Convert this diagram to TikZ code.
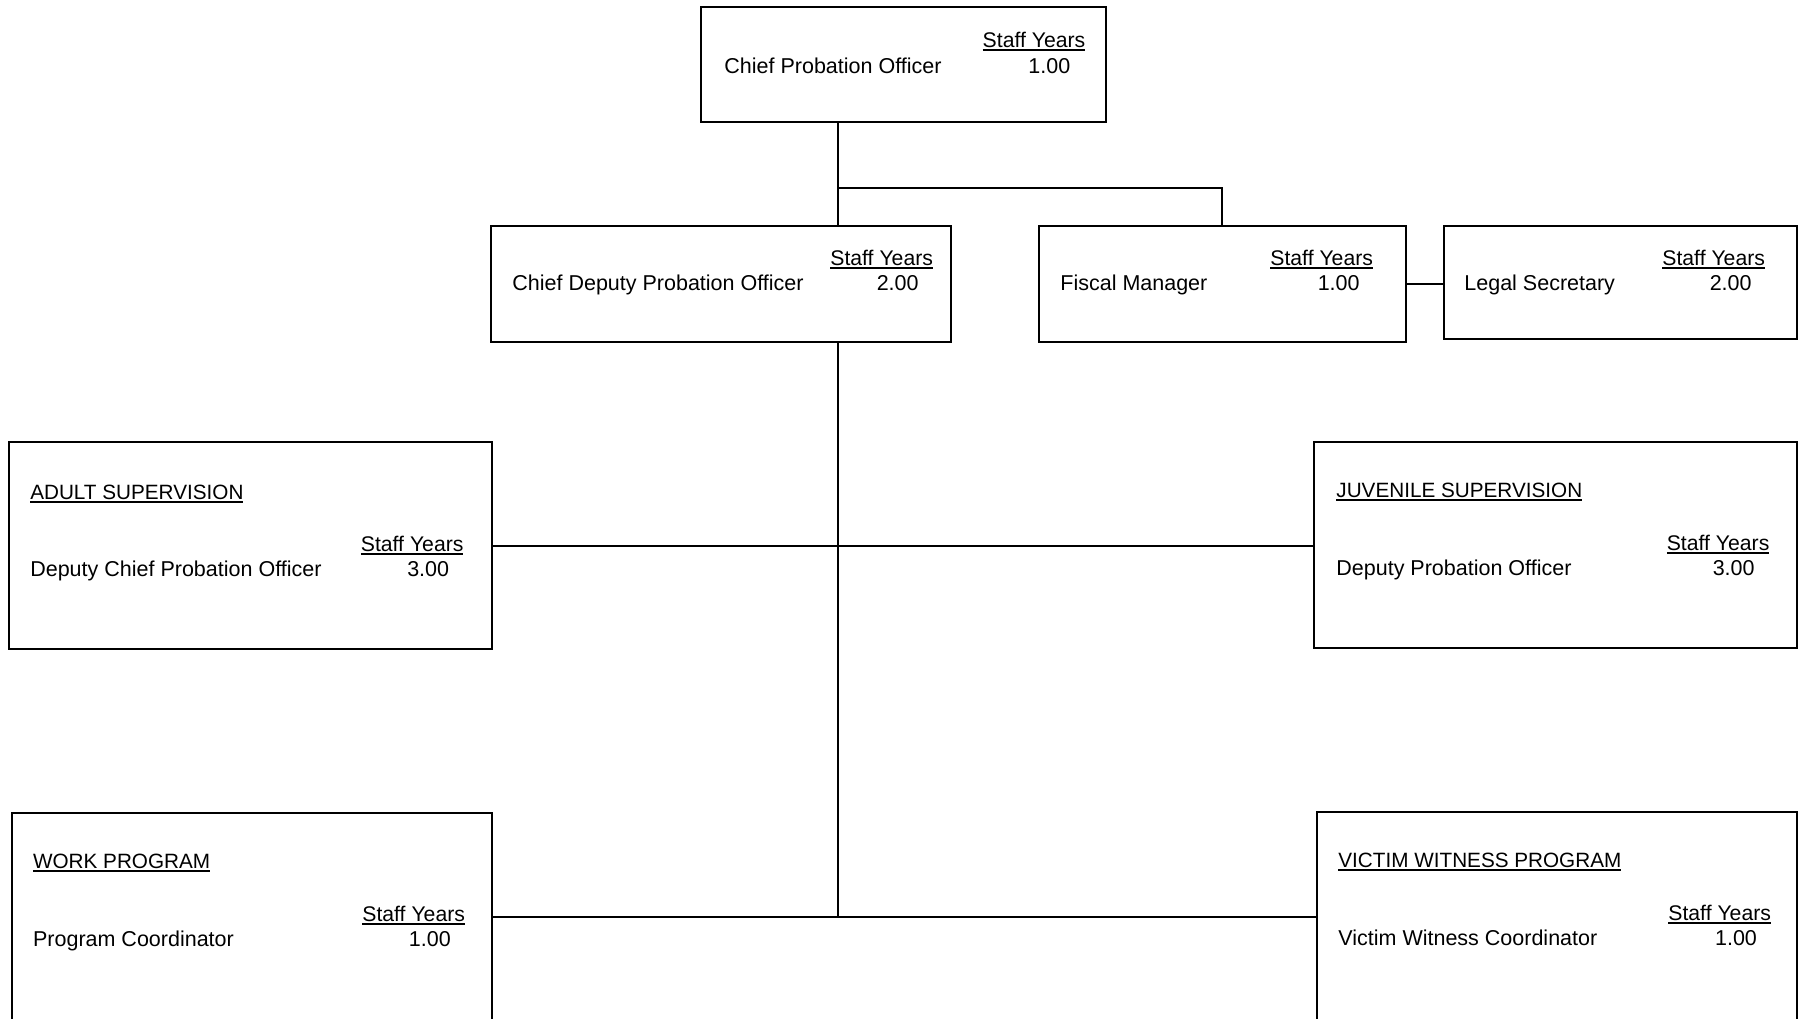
\documentclass[tikz,border=0pt]{standalone}
\usepackage{fontspec}
\setmainfont{Liberation Sans}
\usetikzlibrary{fit}
\newcommand\ulx[1]{\setbox0\hbox{#1}\rlap{\raisebox{-1.75pt}{\rule{\wd0}{0.9pt}}}\box0}
\begin{document}
\begin{tikzpicture}[x=0.5pt,y=-0.5pt,
  box/.style={draw, line width=1pt, inner sep=0pt},
  txt/.style={inner sep=0pt, font=\fontsize{10.75pt}{12pt}\selectfont},
  conn/.style={line width=1pt}]
\tikzset{west txt/.style={txt, anchor=base west}, east txt/.style={txt, anchor=base east},
  sy txt/.style={west txt, font=\fontsize{10.6pt}{12pt}\selectfont},
  head txt/.style={west txt, font=\fontsize{10.35pt}{12pt}\selectfont}}
\useasboundingbox (0,0) rectangle (1802,1018);
\fill[white] (0,0) rectangle (1802,1018);

% boxes
\node[box, fit={(700.7,7.3) (1105.7,121.7)}] (cpo) {};
\node[box, fit={(491,225.7) (951.3,341.5)}] (cdpo) {};
\node[box, fit={(1039,225.7) (1406,341.7)}] (fiscal) {};
\node[box, fit={(1444,225.7) (1797,339.3)}] (legal) {};
\node[box, fit={(8.6,441.7) (492,649.3)}] (adult) {};
\node[box, fit={(1314.3,441.7) (1797,647.7)}] (juv) {};
\begin{scope}
\clip (0,0) rectangle (1802,1018);
\node[box, fit={(11.5,813.3) (492,1040)}] (work) {};
\node[box, fit={(1316.6,811.7) (1797,1040)}] (victim) {};
\end{scope}

% texts
\node[sy txt] (cpo-sy) at (982.3,47.7) {\ulx{Staff Years}};
\node[west txt] (cpo-t) at (724,73.3) {Chief Probation Officer};
\node[east txt] (cpo-n) at (1070.7,73.3) {1.00};

\node[sy txt] (cdpo-sy) at (830,265.3) {\ulx{Staff Years}};
\node[west txt] (cdpo-t) at (512,290.7) {Chief Deputy Probation Officer};
\node[east txt] (cdpo-n) at (919,290.7) {2.00};

\node[sy txt] (fiscal-sy) at (1270,265.3) {\ulx{Staff Years}};
\node[west txt] (fiscal-t) at (1060,290.7) {Fiscal Manager};
\node[east txt] (fiscal-n) at (1360,290.7) {1.00};

\node[sy txt] (legal-sy) at (1662,265.3) {\ulx{Staff Years}};
\node[west txt] (legal-t) at (1464,290.7) {Legal Secretary};
\node[east txt] (legal-n) at (1752,290.7) {2.00};

\node[head txt] (adult-h) at (29.9,499) {\ulx{ADULT SUPERVISION}};
\node[sy txt] (adult-sy) at (360.5,551) {\ulx{Staff Years}};
\node[west txt] (adult-t) at (29.9,576.7) {Deputy Chief Probation Officer};
\node[east txt] (adult-n) at (449.5,576.7) {3.00};

\node[head txt] (juv-h) at (1336,497.3) {\ulx{JUVENILE SUPERVISION}};
\node[sy txt] (juv-sy) at (1666.4,550) {\ulx{Staff Years}};
\node[west txt] (juv-t) at (1336,575) {Deputy Probation Officer};
\node[east txt] (juv-n) at (1755,575) {3.00};

\node[head txt] (work-h) at (32.7,868.3) {\ulx{WORK PROGRAM}};
\node[sy txt] (work-sy) at (362,921) {\ulx{Staff Years}};
\node[west txt] (work-t) at (32.7,946.7) {Program Coordinator};
\node[east txt] (work-n) at (451.2,946.7) {1.00};

\node[head txt] (victim-h) at (1338,867.3) {\ulx{VICTIM WITNESS PROGRAM}};
\node[sy txt] (victim-sy) at (1668,920) {\ulx{Staff Years}};
\node[west txt] (victim-t) at (1338,945) {Victim Witness Coordinator};
\node[east txt] (victim-n) at (1757.3,945) {1.00};

% connector helpers
\coordinate (spine) at (838,0);
\coordinate (fx) at (1221.5,0);
\coordinate (bar) at (838,187.7);
\coordinate (ly) at (0,284);
\coordinate (ay) at (0,545.5);
\coordinate (wy) at (0,917.3);

% connectors
\draw[conn] (cpo.south -| spine) -- (cdpo.north -| spine);
\draw[conn] (bar) -| (fiscal.north -| fx);
\draw[conn] (fiscal.east |- ly) -- (legal.west |- ly);
\draw[conn] (cdpo.south -| spine) -- (spine |- wy);
\draw[conn] (adult.east |- ay) -- (juv.west |- ay);
\draw[conn] (work.east |- wy) -- (victim.west |- wy);
\end{tikzpicture}
\end{document}
